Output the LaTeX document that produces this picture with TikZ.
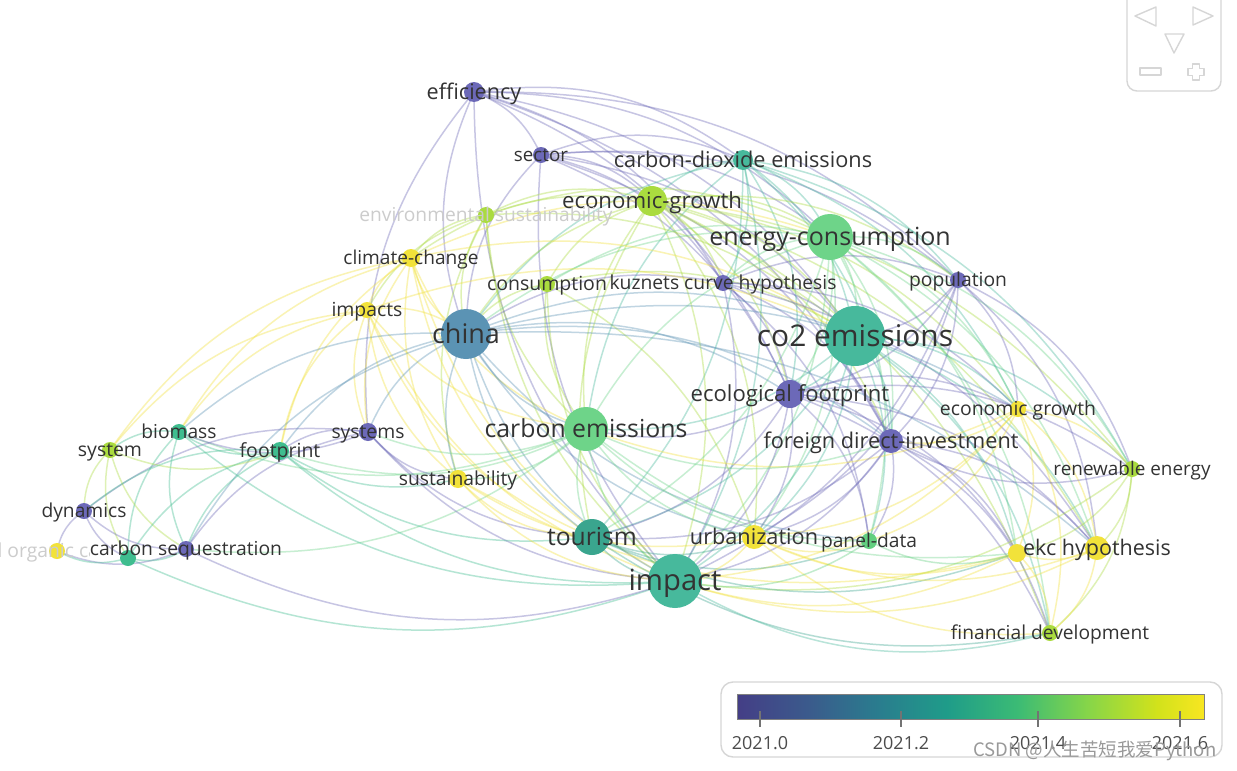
\documentclass[tikz,border=0pt]{standalone}
\usepackage{fontspec}
\setmainfont{Open Sans}
\newfontfamily\cjkf{Noto Sans CJK SC}
\usetikzlibrary{calc}
\pgfdeclarelayer{bg}
\pgfdeclarelayer{edges}
\pgfsetlayers{bg,edges,main}
% node colours
\definecolor{cP}{HTML}{6C69B8}
\definecolor{cB}{HTML}{5B93B4}
\definecolor{cT}{HTML}{3AA58E}
\definecolor{cT2}{HTML}{47B99C}
\definecolor{cGT}{HTML}{3FBD8F}
\definecolor{cG}{HTML}{6ED489}
\definecolor{cG2}{HTML}{62CF80}
\definecolor{cYG}{HTML}{AADB3F}
\definecolor{cY}{HTML}{F2E23A}
\definecolor{labelc}{HTML}{333333}
\definecolor{fadec}{HTML}{CCCCCC}
\definecolor{navc}{HTML}{D6D6D6}
% viridis bar
\definecolor{v0}{HTML}{443E86}
\definecolor{v1}{HTML}{3B5A8C}
\definecolor{v2}{HTML}{2A7C8E}
\definecolor{v3}{HTML}{1F9C89}
\definecolor{v4}{HTML}{3BBB75}
\definecolor{v5}{HTML}{86D549}
\definecolor{v6}{HTML}{D2E21B}
\definecolor{v7}{HTML}{F8E621}
\pgfdeclarehorizontalshading{viridisbar}{100bp}{color(0bp)=(v0); color(25bp)=(v0); color(32.5bp)=(v1); color(40bp)=(v2); color(47.5bp)=(v3); color(55bp)=(v4); color(62.5bp)=(v5); color(70bp)=(v6); color(75bp)=(v7); color(100bp)=(v7)}
% edge colours per node
\colorlet{k-eff}{cP}\colorlet{k-sec}{cP}\colorlet{k-cde}{cT2}\colorlet{k-egh}{cYG}
\colorlet{k-env}{cYG}\colorlet{k-enc}{cG}\colorlet{k-clc}{cY}\colorlet{k-con}{cYG}
\colorlet{k-kch}{cP}\colorlet{k-pop}{cP}\colorlet{k-imps}{cY}\colorlet{k-chn}{cB}
\colorlet{k-co2}{cT2}\colorlet{k-ecf}{cP}\colorlet{k-egr}{cY}\colorlet{k-cem}{cG}
\colorlet{k-fdi}{cP}\colorlet{k-sys}{cP}\colorlet{k-bio}{cGT}\colorlet{k-syst}{cYG}
\colorlet{k-fpt}{cGT}\colorlet{k-sus}{cY}\colorlet{k-ren}{cYG}\colorlet{k-dyn}{cP}
\colorlet{k-tou}{cT}\colorlet{k-urb}{cY}\colorlet{k-pan}{cG2}\colorlet{k-ekc}{cY}
\colorlet{k-ekcb}{cY}\colorlet{k-imp}{cT2}\colorlet{k-cseq}{cP}\colorlet{k-soc}{cY}
\colorlet{k-nn}{cGT}\colorlet{k-fin}{cYG}
\tikzset{
  dot/.style={circle, inner sep=0pt, minimum size=#1*2pt, draw=none},
  edge/.style={line width=1.5pt, opacity=0.38},
  lbl/.style={text=labelc, inner sep=0pt, anchor=base},
  fade/.style={text=fadec},
  navline/.style={draw=navc, line width=1.4pt, line join=round},
}
\newcommand\lab[4][]{\node[lbl,#1,font=\fontsize{#2}{#2}\selectfont] (#3-l) at ([yshift=-#2*0.34pt]#3.center) {#4};}
\begin{document}
\begin{tikzpicture}[x=1pt,y=-1pt]
\clip (0,0) rectangle (1237,771);
\begin{pgfonlayer}{bg}
\fill[white] (0,0) rectangle (1237,771);
\end{pgfonlayer}
% ---- nodes (dots)
\node[dot=10, fill=cP]  (eff)  at (474,92) {};
\node[dot=8,  fill=cP]  (sec)  at (541,155) {};
\node[dot=10, fill=cT2] (cde)  at (743,160) {};
\node[dot=15, fill=cYG] (egh)  at (652,201) {};
\node[dot=8,  fill=cYG] (env)  at (486,215) {};
\node[dot=23, fill=cG]  (enc)  at (830,237) {};
\node[dot=9,  fill=cY]  (clc)  at (411,258) {};
\node[dot=8,  fill=cYG] (con)  at (547,284) {};
\node[dot=8,  fill=cP]  (kch)  at (723,283) {};
\node[dot=8,  fill=cP]  (pop)  at (958,280) {};
\node[dot=8,  fill=cY]  (imps) at (367,310) {};
\node[dot=25, fill=cB]  (chn)  at (466,334) {};
\node[dot=30, fill=cT2] (co2)  at (855,336) {};
\node[dot=14, fill=cP]  (ecf)  at (790,394) {};
\node[dot=8,  fill=cY]  (egr)  at (1018,409) {};
\node[dot=22, fill=cG]  (cem)  at (586,429) {};
\node[dot=12, fill=cP]  (fdi)  at (891,441) {};
\node[dot=9,  fill=cP]  (sys)  at (368,432) {};
\node[dot=8,  fill=cGT] (bio)  at (179,432) {};
\node[dot=8,  fill=cYG] (syst) at (110,450) {};
\node[dot=9,  fill=cGT] (fpt)  at (280,451) {};
\node[dot=9,  fill=cY]  (sus)  at (458,479) {};
\node[dot=8,  fill=cYG] (ren)  at (1132,469) {};
\node[dot=8,  fill=cP]  (dyn)  at (84,511) {};
\node[dot=18, fill=cT]  (tou)  at (592,537) {};
\node[dot=12, fill=cY]  (urb)  at (754,537) {};
\node[dot=8,  fill=cG2] (pan)  at (869,541) {};
\node[dot=12, fill=cY]  (ekc)  at (1097,548) {};
\node[dot=9,  fill=cY]  (ekcb) at (1017,553) {};
\node[dot=27, fill=cT2] (imp)  at (675,581) {};
\node[dot=8,  fill=cP]  (cseq) at (186,549) {};
\node[dot=8,  fill=cY]  (soc)  at (57,551) {};
\node[dot=8,  fill=cGT] (nn)   at (128,558) {};
\node[dot=8,  fill=cYG] (fin)  at (1050,633) {};
% ---- edges
\begin{pgfonlayer}{edges}
\foreach \a/\b in {
eff/sec, eff/chn, eff/cde, eff/enc, eff/kch, eff/ecf, eff/co2, eff/pop, eff/sys, eff/imp, eff/fdi,
sec/chn, sec/cde, sec/enc, sec/co2, sec/kch, sec/imp, sec/ecf, sec/fdi, sec/egh, sec/pop,
cde/enc, cde/co2, cde/egh, cde/chn, cde/imp, cde/ecf, cde/pop, cde/kch, cde/fdi, cde/tou, cde/ren, cde/egr, cde/cem,
egh/enc, egh/co2, egh/chn, egh/cem, egh/imp, egh/env, egh/clc, egh/con, egh/urb, egh/ren, egh/egr, egh/ekc, egh/tou, egh/kch, egh/ecf, egh/fdi, egh/pop, egh/fin,
env/chn, env/clc, env/imps, env/cem, env/sus, env/co2, env/enc, env/imp,
enc/co2, enc/chn, enc/cem, enc/imp, enc/ecf, enc/fdi, enc/egr, enc/ren, enc/ekc, enc/urb, enc/pan, enc/pop, enc/kch, enc/tou, enc/fin, enc/ekcb, enc/con,
clc/imps, clc/chn, clc/sus, clc/cem, clc/imp, clc/co2, clc/sys, clc/fpt, clc/bio, clc/tou, clc/syst, clc/enc,
con/chn, con/cem, con/co2, con/imp, con/urb,
kch/co2, kch/ecf, kch/fdi, kch/imp, kch/chn, kch/pop, kch/egr, kch/ekc, kch/pan,
pop/co2, pop/ecf, pop/fdi, pop/imp, pop/ekc, pop/ren, pop/urb, pop/egr,
imps/chn, imps/sus, imps/imp, imps/cem, imps/sys, imps/tou, imps/co2, imps/bio, imps/syst, imps/fpt,
chn/co2, chn/cem, chn/imp, chn/tou, chn/sys, chn/sus, chn/ecf, chn/fdi, chn/urb, chn/fpt, chn/cseq, chn/egr, chn/pan, chn/ekc, chn/bio,
co2/ecf, co2/fdi, co2/egr, co2/imp, co2/cem, co2/urb, co2/pan, co2/ekc, co2/ekcb, co2/ren, co2/fin, co2/tou,
ecf/fdi, ecf/imp, ecf/urb, ecf/pan, ecf/egr, ecf/ekc, ecf/ren, ecf/cem, ecf/tou, ecf/fin, ecf/ekcb,
egr/ren, egr/ekc, egr/ekcb, egr/fin, egr/fdi, egr/imp, egr/urb, egr/pan, egr/cem,
cem/imp, cem/tou, cem/urb, cem/sus, cem/sys, cem/fpt, cem/fdi, cem/pan, cem/ekcb, cem/bio, cem/cseq,
fdi/imp, fdi/urb, fdi/pan, fdi/ekc, fdi/ekcb, fdi/ren, fdi/fin, fdi/tou,
sys/fpt, sys/cseq, sys/bio, sys/imp, sys/tou, sys/sus, sys/dyn,
bio/fpt, bio/syst, bio/cseq, bio/nn, bio/imp,
syst/dyn, syst/fpt, syst/cseq, syst/nn,
fpt/cseq, fpt/imp, fpt/sus, fpt/dyn, fpt/nn, fpt/tou,
sus/imp, sus/tou, sus/urb, sus/ekcb,
ren/ekc, ren/ekcb, ren/fin, ren/imp,
dyn/cseq, dyn/soc, dyn/nn,
tou/imp, tou/urb, tou/pan, tou/ekcb, tou/fin,
urb/imp, urb/ekcb, urb/pan, urb/fin, urb/ekc,
pan/imp, pan/ekcb,
ekc/ekcb, ekc/fin, ekc/imp,
ekcb/fin, ekcb/imp,
imp/fin, nn/imp, cseq/imp,
cseq/soc, nn/soc, nn/cseq}{
  \draw[edge, draw=k-\a] let \p1=(\a.center), \p2=(\b.center),
    \n1={22*sign(scalar(((\y1-\y2)/100)*((\x1+\x2)/200-6.4)+((\x2-\x1)/100)*((\y1+\y2)/200+4)))}
    in (\a.center) to[bend left=\n1] (\b.center);
}
\end{pgfonlayer}
% ---- labels
\lab{21.6}{eff}{efficiency}
\lab{18.8}{sec}{sector}
\lab{21.7}{cde}{carbon-dioxide emissions}
\lab{22.2}{egh}{economic-growth}
\lab[fade]{19.2}{env}{environmental sustainability}
\lab{25}{enc}{energy-consumption}
\lab{19.1}{clc}{climate-change}
\lab{19.5}{con}{consumption}
\lab{19.3}{kch}{kuznets curve hypothesis}
\lab{19.3}{pop}{population}
\lab{19.4}{imps}{impacts}
\lab{27}{chn}{china}
\lab{29.9}{co2}{co2 emissions}
\lab{22.1}{ecf}{ecological footprint}
\lab{19.4}{egr}{economic growth}
\lab{24.8}{cem}{carbon emissions}
\lab{21.7}{fdi}{foreign direct-investment}
\lab{19.3}{sys}{systems}
\lab{19.2}{bio}{biomass}
\lab{19.4}{syst}{system}
\lab{19.5}{fpt}{footprint}
\lab{19.3}{sus}{sustainability}
\lab{18.9}{ren}{renewable energy}
\lab{19.2}{dyn}{dynamics}
\lab{24.7}{tou}{tourism}
\lab{21.7}{urb}{urbanization}
\lab{19.2}{pan}{panel-data}
\lab{21.5}{ekc}{ekc hypothesis}
\lab{29.2}{imp}{impact}
\begin{scope}
\clip (0,520) rectangle (89,580);
\lab[fade]{19.3}{soc}{soil organic carbon}
\end{scope}
\lab{19.3}{cseq}{carbon sequestration}
\lab{19.2}{fin}{financial development}
% ---- navigation control
\draw[navline, rounded corners=10pt] (1127,-15) rectangle (1221,91);
\draw[navline] (1135,16) -- (1156,7) -- (1156,26) -- cycle;
\draw[navline] (1213,16) -- (1193,7) -- (1193,25) -- cycle;
\draw[navline] (1165,34) -- (1184,34) -- (1174,53) -- cycle;
\draw[navline] (1140,68) rectangle (1161,75);
\draw[navline] (1192.5,64) -- (1199.5,64) -- (1199.5,68.5) -- (1204,68.5) -- (1204,75.5) -- (1199.5,75.5) -- (1199.5,80) -- (1192.5,80) -- (1192.5,75.5) -- (1188,75.5) -- (1188,68.5) -- (1192.5,68.5) -- cycle;
% ---- colour bar panel
\draw[draw=navc, line width=1.4pt, rounded corners=12pt] (721,682) rectangle (1222,757);
\shade[shading=viridisbar] (737,694) rectangle (1204,719);
\draw[draw=black!50, line width=1pt] (737,694) rectangle (1204,719);
\foreach \xx/\tt in {760/2021.0, 901/2021.2, 1038/2021.4, 1180/2021.6}{
  \draw[black!55, line width=1.2pt] (\xx,711) -- (\xx,727);
  \node[text=black!70, inner sep=0pt, anchor=base, font=\fontsize{18}{18}\selectfont] (t\xx) at (\xx,749) {\tt};
}
% ---- watermark
\node[anchor=west, inner sep=0pt, text=black!40, font=\fontsize{18.5}{18.5}\selectfont\cjkf] (wm) at (973,751) {CSDN @人生苦短我爱Python};
\end{tikzpicture}
\end{document}
